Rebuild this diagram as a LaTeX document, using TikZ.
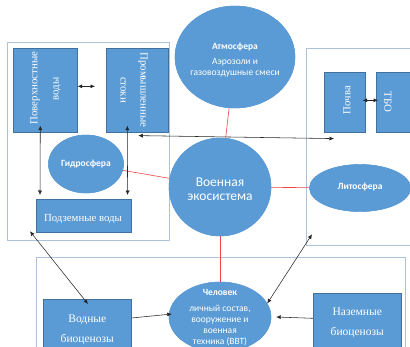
\documentclass[tikz,border=0pt]{standalone}
\usepackage{fontspec}
\setmainfont{Liberation Serif}
\newfontfamily\calib{Carlito}
\usetikzlibrary{shapes.geometric,arrows.meta,calc}
\definecolor{boxblue}{RGB}{91,155,213}
\definecolor{boxedge}{RGB}{65,113,156}
\definecolor{framec}{RGB}{173,194,219}
\definecolor{redl}{RGB}{235,70,70}
\begin{document}
\begin{tikzpicture}[x=1pt,y=-1pt,
  frame/.style={draw=framec,line width=1.3pt,fill=none,inner sep=0pt,anchor=north west},
  bx/.style={draw=boxedge,line width=0.6pt,fill=boxblue,inner sep=0pt,text=white,anchor=north west},
  ell/.style={ellipse,fill=boxblue,draw=boxblue,inner sep=0pt},
  sertxt/.style={text=white,font=\fontsize{10.8}{20}\selectfont,align=center,inner sep=0pt},
  sertxtb/.style={text=white,font=\fontsize{11.5}{20}\selectfont,align=center},
  santxt/.style={text=white,font=\calib\fontsize{9.5}{10.5}\selectfont,align=center,inner sep=0pt},
  redline/.style={draw=redl,line width=0.6pt},
  dbl/.style={draw=black!85,line width=0.55pt,{Latex[length=4.5pt,width=4pt]}-{Latex[length=4.5pt,width=4pt]}},
  sgl/.style={draw=black!85,line width=0.55pt,-{Latex[length=4.5pt,width=4pt]}}
]
\clip (0,0) rectangle (410,346);
\fill[white] (0,0) rectangle (410,346);

% frames
\node[frame, minimum width=162pt, minimum height=198pt] (frameL) at (7,42) {};
\node[frame, minimum width=120pt, minimum height=197pt] (frameR) at (306,48) {};
\node[frame, minimum width=369pt, minimum height=110pt] (frameB) at (36,257) {};

% ellipses
\node[ell, minimum width=120pt, minimum height=102pt] (atm) at (235,57) {};
\node[ell, minimum width=75pt, minimum height=58pt] (hydro) at (86,164) {};
\node[ell, minimum width=102pt, minimum height=98pt] (eco) at (220,187) {};
\node[ell, minimum width=101pt, minimum height=47pt] (litho) at (360,188) {};
\node[ell, minimum width=102pt, minimum height=70pt] (chel) at (220,317) {};

% red links
\draw[redline] (atm) -- (eco);
\draw[redline] (hydro) -- (eco);
\draw[redline] (eco) -- (litho);
\draw[redline] (eco) -- (chel);

% redraw ellipses over the red lines
\node[ell, minimum width=120pt, minimum height=102pt] at (atm.center) {};
\node[ell, minimum width=75pt, minimum height=58pt] at (hydro.center) {};
\node[ell, minimum width=102pt, minimum height=98pt] at (eco.center) {};
\node[ell, minimum width=101pt, minimum height=47pt] at (litho.center) {};
\node[ell, minimum width=102pt, minimum height=70pt] at (chel.center) {};

% boxes
\node[bx, minimum width=64pt, minimum height=84pt] (pov) at (13,48) {};
\node[bx, minimum width=62pt, minimum height=84pt] (prom) at (106,48) {};
\node[bx, minimum width=95pt, minimum height=33pt] (podz) at (36,199) {};
\node[bx, minimum width=41pt, minimum height=60pt] (pochva) at (324,72) {};
\node[bx, minimum width=40pt, minimum height=60pt] (tbo) at (376,72) {};
\node[bx, sertxtb, minimum width=88pt, minimum height=62pt] (vodn) at (43,299) {Водные\\биоценозы};
\node[bx, sertxtb, minimum width=88pt, minimum height=60pt] (nazem) at (313,293) {Наземные\\биоценозы};

% box texts
\node[sertxt, rotate=90] (povt1) at (35,88) {Поверхностные};
\node[sertxt, rotate=90] (povt2) at (57,89) {воды};
\node[sertxt, rotate=-90] (promt1) at (143,90) {Промышленные};
\node[sertxt, rotate=-90] (promt2) at (123,90) {стоки};
\node[sertxt] (podzt) at (83,219) {Подземные воды};
\node[sertxt, rotate=90] (pocht) at (347,100) {Почва};
\node[sertxt, rotate=-90] (tbot) at (388,102) {ТБО};

% ellipse texts
\node[santxt] (atmt) at (235,60) {{\bfseries Атмосфера}\\[4.5pt]Аэрозоли и\\газовоздушные смеси};
\node[santxt] (hydrot) at (86,164) {\bfseries Гидросфера};
\node[santxt, font=\calib\fontsize{13.5}{14}\selectfont] (ecot) at (220,189) {Военная\\экосистема};
\node[santxt] (lithot) at (360,187) {\bfseries Литосфера};
\node[santxt, font=\calib\fontsize{9.5}{11}\selectfont] (chelt) at (220,318) {{\bfseries Человек}\\[5pt]личный состав,\\вооружение и\\военная\\техника (ВВТ)};

% black arrows
\draw[dbl] ($(pov.east)+(0,-4)$) -- ($(prom.west)+(-11,-4)$);
\draw[dbl] ($(pochva.east)+(-3,-2)$) -- ($(tbo.west)+(2,-2)$);
\draw[dbl] ($(pov.south)+(-5,-7)$) -- ($(podz.north west)+(4,-4)$);
\draw[dbl] ($(prom.south)+(-10,-7)$) -- ($(podz.north east)+(-4,-4)$);
\draw[dbl] ($(prom.south)+(1,3)$) -- ($(pochva.south west)+(10,6)$);
\draw[dbl] ($(frameL.south west)+(23,-10)$) -- ($(vodn.north west)+(45,5)$);
\draw[dbl] ($(frameR.south west)+(6,-12)$) -- (chel.16);
\draw[sgl] ($(vodn.north east)+(0,19)$) -- ($(chel.west)+(3,-3)$);
\draw[sgl] ($(nazem.west)+(0,-5)$) -- ($(chel.east)+(5,0)$);
\end{tikzpicture}
\end{document}
